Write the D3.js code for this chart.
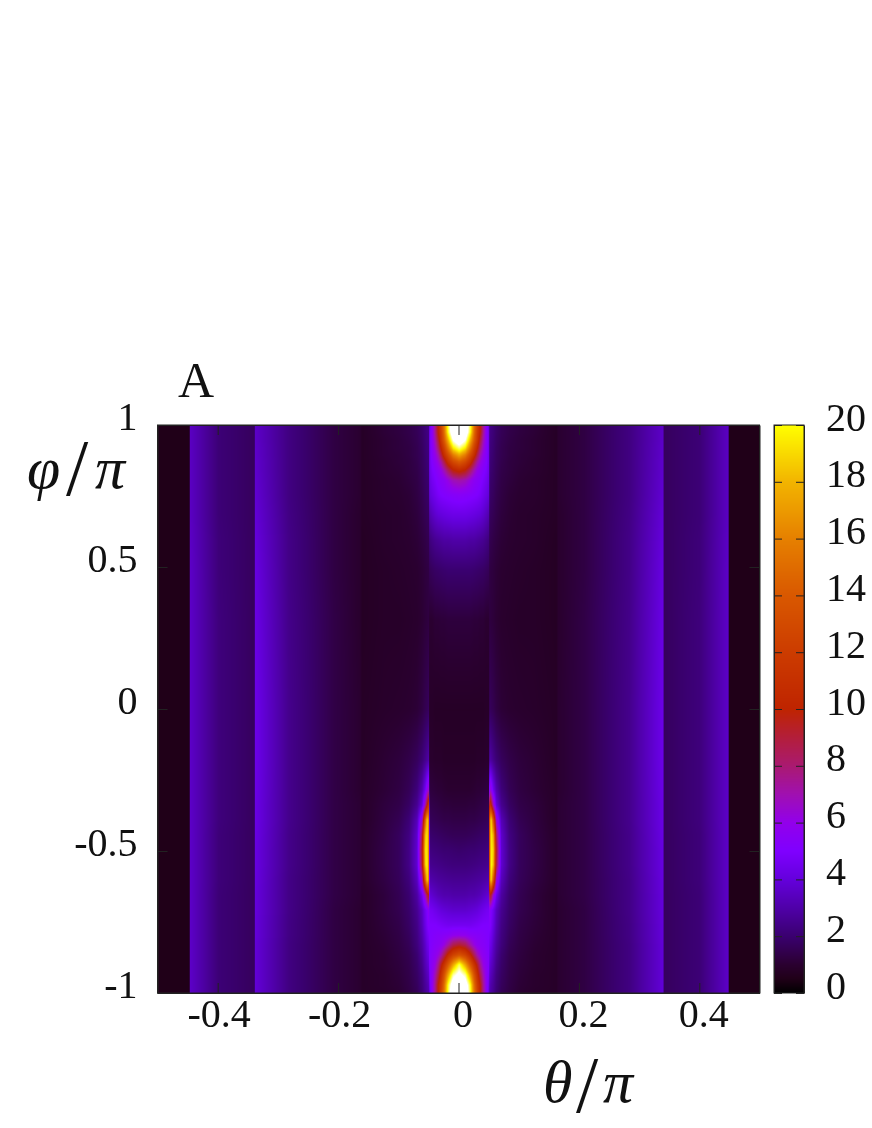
<!DOCTYPE html>
<html><head><meta charset="utf-8">
<script src="https://cdn.jsdelivr.net/npm/d3@7/dist/d3.min.js"></script>
<style>
html,body{margin:0;padding:0;background:#fff}
#wrap{position:relative;width:872px;height:1128px;overflow:hidden}
canvas,svg{position:absolute;left:0;top:0}
text{font-family:"Liberation Serif",serif;fill:#111}
</style></head><body><div id="wrap"></div>
<script>
// |theta|/pi knots (field is mirror symmetric in theta)
const thetaKnots=[0,.01,.0183,.025,.03,.0349,.0399,.0449,.0491,.0507,.0532,.0566,.0616,.0699,.0832,.0998,.1248,.1614,.1647,.208,.2829,.3386,.3403,.3993,.4468,.4484,.5];
// phi/pi knots, top to bottom
const phiKnots=[1,.975,.947,.919,.894,.87,.842,.806,.754,.683,.595,.489,.313,0,-.18,-.285,-.338,-.391,-.444,-.496,-.549,-.602,-.655,-.708,-.761,-.796,-.831,-.866,-.901,-.937,-.972,-1];
// values: one row per phi knot, one column per theta knot
const fieldRows=[
[30,26,21,15.5,12.5,10,7.5,5.6,4.2, 2.4,2.3,2.1,1.9,1.6,1.4,1.25,1.1,.8,1, 1.3,2.3,3.6,1.7,2.1,3.5,.5,.5],
[28,25.5,20.5,15,12,10,7.5,5.6,4.5, 2.35,2.25,2.1,1.85,1.6,1.4,1.25,1.1,.8,1, 1.3,2.3,3.6,1.7,2.1,3.5,.5,.5],
[25.5,23,18,14,11.5,9,7,5.6,4.5, 2.3,2.2,2.05,1.8,1.55,1.35,1.2,1.05,.8,1, 1.3,2.3,3.6,1.7,2.1,3.5,.5,.5],
[21.5,19.5,15.5,12.2,10.2,8,6.5,5.4,4.5, 2.25,2.15,2,1.75,1.5,1.3,1.2,1.05,.8,1, 1.3,2.3,3.65,1.7,2.1,3.5,.5,.5],
[17.5,15.8,13,10.8,8.7,7,6,5.3,4.5, 2.2,2.1,1.95,1.7,1.5,1.3,1.15,1.05,.8,1, 1.3,2.3,3.65,1.7,2.1,3.5,.5,.5],
[14,12.8,11,8.7,7.2,6.3,5.6,5.1,4.5, 2.15,2.05,1.9,1.7,1.45,1.25,1.15,1,.8,1, 1.3,2.3,3.7,1.7,2.1,3.5,.5,.5],
[10.7,10,8.4,7,6.1,5.6,5.2,4.9,4.4, 2.1,2,1.85,1.65,1.4,1.25,1.1,1,.8,1, 1.3,2.3,3.7,1.7,2.1,3.5,.5,.5],
[7.2,6.9,6.2,5.6,5.4,5.2,4.9,4.6,4.2, 2,1.9,1.8,1.6,1.35,1.2,1.05,.95,.8,1, 1.3,2.3,3.75,1.7,2.1,3.5,.5,.5],
[5.4,5.3,5.2,5.1,5,4.8,4.5,4.2,3.9, 1.9,1.8,1.7,1.5,1.3,1.1,1,.95,.8,1, 1.3,2.3,3.8,1.7,2.1,3.5,.5,.5],
[4.3,4.3,4.2,4.1,4,3.9,3.7,3.4,3.1, 1.7,1.65,1.55,1.4,1.2,1.05,.95,.9,.8,.95, 1.3,2.35,3.9,1.7,2.1,3.5,.5,.5],
[3,3,2.9,2.9,2.8,2.7,2.6,2.4,2.2, 1.5,1.45,1.35,1.25,1.1,1,.95,.9,.75,.95, 1.3,2.4,4,1.7,2.15,3.55,.5,.5],
[2,2,2,1.95,1.9,1.85,1.8,1.7,1.6, 1.3,1.25,1.2,1.1,1,.95,.9,.85,.75,.95, 1.3,2.4,4.1,1.7,2.15,3.6,.5,.5],
[1.2,1.2,1.2,1.15,1.15,1.1,1.1,1,1, 1.25,1.2,1.15,1.05,.95,.9,.85,.85,.75,.95, 1.35,2.45,4.2,1.7,2.2,3.6,.5,.5],
[.8,.8,.8,.8,.8,.8,.8,.85,.85, 1.7,1.6,1.5,1.3,1.1,1,.95,.9,.8,1, 1.35,2.5,4.3,1.7,2.2,3.6,.5,.5],
[.85,.85,.85,.85,.9,.9,.9,.95,.95, 3,2.8,2.5,2.1,1.7,1.4,1.2,1.05,.8,1, 1.35,2.5,4.3,1.7,2.2,3.6,.5,.5],
[1,1,1,1.05,1.1,1.1,1.15,1.2,1.25, 6.5,5.8,4.5,3.2,2.2,1.6,1.3,1.1,.85,1, 1.35,2.5,4.25,1.7,2.2,3.6,.5,.5],
[1.15,1.15,1.2,1.2,1.25,1.3,1.35,1.4,1.45, 12,10,6.8,4,2.6,1.8,1.4,1.2,.85,1.05, 1.35,2.5,4.2,1.7,2.2,3.6,.5,.5],
[1.35,1.35,1.4,1.4,1.45,1.5,1.55,1.6,1.7, 16,19,14,6.5,3.3,2.1,1.55,1.25,.85,1.05, 1.35,2.5,4.2,1.7,2.2,3.6,.5,.5],
[1.6,1.6,1.65,1.7,1.75,1.8,1.85,1.9,2, 16,19.5,18,8.5,3.7,2.3,1.7,1.3,.9,1.05, 1.35,2.45,4.15,1.7,2.15,3.6,.5,.5],
[1.9,1.95,2,2,2.05,2.1,2.15,2.2,2.3, 16,19.5,19,9.5,3.8,2.4,1.7,1.35,.9,1.05, 1.35,2.45,4.1,1.7,2.15,3.6,.5,.5],
[2.2,2.2,2.25,2.3,2.35,2.4,2.45,2.5,2.6, 16,20,18.5,9,3.8,2.4,1.7,1.35,.9,1.05, 1.35,2.45,4.1,1.7,2.15,3.6,.5,.5],
[2.6,2.6,2.65,2.7,2.75,2.8,2.9,3,3.1, 16,19,14,6.5,3.4,2.2,1.65,1.3,.9,1.05, 1.35,2.4,4.05,1.7,2.15,3.6,.5,.5],
[3,3,3.1,3.1,3.2,3.3,3.5,3.7,3.9, 10,9,6.5,4.5,2.9,2,1.55,1.2,.85,1.05, 1.35,2.4,4,1.7,2.1,3.6,.5,.5],
[3.7,3.7,3.8,3.9,4,4.2,4.4,4.6,4.7, 5.5,5,4.5,3.5,2.6,1.9,1.5,1.2,.85,1, 1.3,2.4,4,1.7,2.1,3.6,.5,.5],
[4.6,4.6,4.6,4.7,4.8,4.9,5,5,5, 5.2,4.8,4.2,3.3,2.4,1.8,1.4,1.15,.85,1, 1.3,2.35,3.95,1.7,2.1,3.6,.5,.5],
[5.9,5.8,5.5,5.4,5.3,5.3,5.2,5.1,5, 4.8,4.5,3.9,3.1,2.3,1.7,1.35,1.1,.85,1, 1.3,2.35,3.95,1.7,2.1,3.6,.5,.5],
[9.2,8.6,7.2,6.2,5.7,5.5,5.4,5.2,5, 4.5,4.2,3.6,2.9,2.2,1.6,1.3,1.05,.85,1, 1.3,2.3,3.9,1.7,2.1,3.6,.5,.5],
[13.5,12.4,10.5,8.4,7,6.2,5.7,5.4,5.1, 4.2,3.9,3.4,2.7,2,1.5,1.25,1,.85,1, 1.3,2.3,3.9,1.7,2.1,3.6,.5,.5],
[21,17.5,14,11.3,9.5,7.5,6.2,5.6,5.1, 3.9,3.6,3.2,2.5,1.9,1.45,1.2,1,.85,1, 1.3,2.3,3.9,1.7,2.1,3.6,.5,.5],
[24,22,17.5,13.5,11,8.7,7,5.7,4.8, 3.6,3.3,2.9,2.3,1.8,1.4,1.15,.95,.85,1, 1.3,2.3,3.9,1.7,2.1,3.6,.5,.5],
[27,25,20.5,15,12,10,7.5,5.8,4.5, 3.3,3,2.7,2.2,1.7,1.35,1.1,.95,.85,1, 1.3,2.3,3.9,1.7,2.1,3.6,.5,.5],
[30,26,21,15.5,12.5,10,7.5,5.8,4.2, 3.1,2.9,2.6,2.1,1.6,1.3,1.05,.9,.85,1, 1.3,2.3,3.9,1.7,2.1,3.6,.5,.5]
];
const paletteStops=[0,.5,1,1.5,2,3,4,5,6,7,8,9,10,12,14,16,18,20,23];
const paletteColors=["#000000","#200018","#2a0030","#330050","#3a0070","#4f00a8","#6400dc","#7f00ff","#9200ea","#a010b0","#aa1a70","#b31e3a","#bf2400","#cc3c00","#d95800","#e68000","#f2b400","#ffff00","#ffffff"];
const thetaTicks=[-.4,-.2,0,.2,.4];
const phiTicks=[-1,-.5,0,.5,1];
const cbTicks=[0,2,4,6,8,10,12,14,16,18,20];

const L=157.5,R=759.5,T=425,B=993,CL=774,CR=804;
const x=d3.scaleLinear().domain([-.5,.5]).range([L,R]);
const y=d3.scaleLinear().domain([-1,1]).range([B,T]);
const cy=d3.scaleLinear().domain([0,20]).range([B,T]);
const color=d3.scaleLinear().domain(paletteStops).range(paletteColors).interpolate(d3.interpolateRgb).clamp(true);
const thetaIndex=d3.scaleLinear().domain(thetaKnots).range(thetaKnots.map((_,i)=>i)).clamp(true);
const phiIndex=d3.scaleLinear().domain(phiKnots).range(phiKnots.map((_,i)=>i)).clamp(true);

function field(th,ph){
  const fx=thetaIndex(Math.abs(th)),fy=phiIndex(ph);
  const i=Math.min(Math.floor(fx),thetaKnots.length-2),j=Math.min(Math.floor(fy),phiKnots.length-2);
  const u=fx-i,v=fy-j;
  return (1-v)*((1-u)*fieldRows[j][i]+u*fieldRows[j][i+1])+v*((1-u)*fieldRows[j+1][i]+u*fieldRows[j+1][i+1]);
}
const wrap=d3.select("#wrap");
const canvas=wrap.append("canvas").attr("width",872).attr("height",1128);
const ctx=canvas.node().getContext("2d");
ctx.fillStyle="#fff";ctx.fillRect(0,0,872,1128);
for(let py=Math.floor(T);py<B;py++){
  for(let px=Math.floor(L);px<R;px++){
    ctx.fillStyle=color(field(x.invert(px-.2),y.invert(py+.5)));
    ctx.fillRect(px,py,1,1);
  }
}
for(let py=T;py<B;py++){
  ctx.fillStyle=color(cy.invert(py+.5));
  ctx.fillRect(CL,py,CR-CL,1);
}
canvas.style("filter","blur(0.6px)");

const svg=wrap.append("svg").attr("width",872).attr("height",1128).style("filter","blur(0.35px)");
const FS=40,TL=10,line="#222";
function style(g){g.select(".domain").attr("stroke",line);g.selectAll(".tick line").attr("stroke",line);g.selectAll("text").attr("font-size",FS).attr("fill","#111").attr("font-family","Liberation Serif");}
const fmt=d=>String(d);
svg.append("g").attr("transform",`translate(0,${B})`).call(d3.axisBottom(x).tickValues(thetaTicks).tickFormat(fmt).tickSize(-TL).tickSizeOuter(0)).call(style)
  .call(g=>g.selectAll("text").attr("y",34).attr("dy",0).attr("dx",d=>d<0?1:4));
svg.append("g").attr("transform",`translate(0,${T})`).call(d3.axisTop(x).tickValues(thetaTicks).tickFormat("").tickSize(-TL).tickSizeOuter(0)).call(style);
svg.append("g").attr("transform",`translate(${L},0)`).call(d3.axisLeft(y).tickValues(phiTicks).tickFormat(fmt).tickSize(-TL).tickSizeOuter(0)).call(style)
  .call(g=>g.selectAll("text").attr("x",-20).attr("dy",4.5).attr("y",0));
svg.append("g").attr("transform",`translate(${R},0)`).call(d3.axisRight(y).tickValues(phiTicks).tickFormat("").tickSize(-TL).tickSizeOuter(0)).call(style);
// colour bar
svg.append("g").attr("transform",`translate(${CR},0)`).call(d3.axisRight(cy).tickValues(cbTicks).tickFormat(fmt).tickSize(-8).tickSizeOuter(0)).call(style)
  .call(g=>g.selectAll("text").attr("x",22).attr("dy",5).attr("y",0));
svg.append("g").attr("transform",`translate(${CL},0)`).call(d3.axisLeft(cy).tickValues(cbTicks).tickFormat("").tickSize(-8).tickSizeOuter(0)).call(style);
svg.append("rect").attr("x",CL).attr("y",T).attr("width",CR-CL).attr("height",B-T).attr("fill","none").attr("stroke",line);
svg.append("rect").attr("x",L).attr("y",T).attr("width",R-L).attr("height",B-T).attr("fill","none").attr("stroke",line);

svg.append("text").attr("x",178).attr("y",397).attr("font-size",50).text("A");
const yl=svg.append("text").attr("y",488).attr("font-size",60);
yl.append("tspan").attr("x",27).attr("font-style","italic").text("φ");
yl.append("tspan").attr("x",66).attr("font-size",80).attr("dy",7).text("/");
yl.append("tspan").attr("x",95).attr("dy",-7).attr("font-style","italic").text("π");
const xl=svg.append("text").attr("y",1102).attr("font-size",60);
xl.append("tspan").attr("x",543).attr("font-style","italic").text("θ");
xl.append("tspan").attr("x",576).attr("font-size",80).attr("dy",10).text("/");
xl.append("tspan").attr("x",603).attr("dy",-10).attr("font-style","italic").text("π");
</script></body></html>
